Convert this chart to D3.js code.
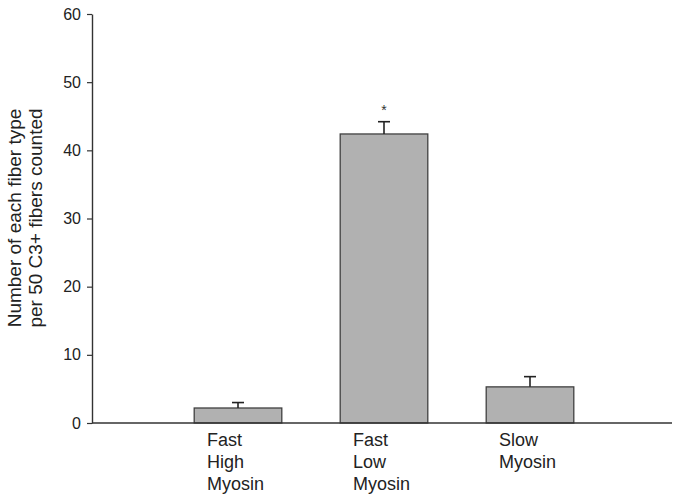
<!DOCTYPE html>
<html>
<head>
<meta charset="utf-8">
<script src="https://cdn.jsdelivr.net/npm/d3@7"></script>
<style>
  html, body { margin: 0; padding: 0; background: #fff; }
  svg { display: block; font-family: "Liberation Sans", Arial, sans-serif; }
</style>
</head>
<body>
<svg id="chart" width="674" height="496"></svg>
<script>
// ---- data ----
const categories = ["Fast High Myosin", "Fast Low Myosin", "Slow Myosin"];
const categoryLines = [["Fast", "High", "Myosin"], ["Fast", "Low", "Myosin"], ["Slow", "Myosin"]];
const means = [2.2, 42.4, 5.3];
const errors = [0.8, 1.8, 1.5];
const significance = ["", "*", ""];
const yTicks = [0, 10, 20, 30, 40, 50, 60];
const yLabelLines = ["Number of each fiber type", "per 50 C3+ fibers counted"];

// ---- layout ----
const svg = d3.select("#chart");
const axisX = 92, axisRight = 672, yTop = 14, yBottom = 423;

const y = d3.scaleLinear().domain([0, 60]).range([yBottom, yTop]);
const x = d3.scaleBand().domain(categories).range([165, 603]).paddingInner(0.4).paddingOuter(0.2);

const data = categories.map((c, i) => ({ c, m: means[i], e: errors[i], s: significance[i], lines: categoryLines[i] }));

// bars
svg.append("g").selectAll("rect").data(data).join("rect")
  .attr("x", d => x(d.c))
  .attr("y", d => y(d.m))
  .attr("width", x.bandwidth())
  .attr("height", d => y(0) - y(d.m))
  .attr("fill", "#b1b1b1")
  .attr("stroke", "#404040")
  .attr("stroke-width", 1.3);

// error bars (upper only)
const eg = svg.append("g").attr("stroke", "#222").attr("stroke-width", 1.6);
data.forEach(d => {
  const cx = x(d.c) + x.bandwidth() / 2;
  eg.append("line").attr("x1", cx).attr("x2", cx).attr("y1", y(d.m)).attr("y2", y(d.m + d.e));
  eg.append("line").attr("x1", cx - 6).attr("x2", cx + 6).attr("y1", y(d.m + d.e)).attr("y2", y(d.m + d.e));
});

// significance marks
svg.append("g").selectAll("text").data(data.filter(d => d.s)).join("text")
  .attr("x", d => x(d.c) + x.bandwidth() / 2)
  .attr("y", d => y(d.m + d.e) - 7)
  .attr("text-anchor", "middle")
  .attr("font-size", 14)
  .attr("fill", "#333")
  .text(d => d.s);

// y axis
const yAxis = d3.axisLeft(y).tickValues(yTicks).tickSize(5).tickPadding(6).tickSizeOuter(0);
const gy = svg.append("g").attr("transform", `translate(${axisX},0)`).call(yAxis);
gy.select(".domain").attr("stroke", "#333").attr("stroke-width", 1.4);
gy.selectAll(".tick line").attr("stroke", "#333").attr("stroke-width", 1.2);
gy.selectAll(".tick text").attr("font-size", 16).attr("fill", "#222")
  .attr("font-family", "Liberation Sans, Arial, sans-serif");

// x axis baseline
svg.append("line").attr("x1", axisX).attr("x2", axisRight)
  .attr("y1", y(0)).attr("y2", y(0))
  .attr("stroke", "#333").attr("stroke-width", 1.4);

// category labels
const lg = svg.append("g").attr("font-size", 18).attr("fill", "#222");
data.forEach(d => {
  const lx = x(d.c) + x.bandwidth() / 2 - 31;
  d.lines.forEach((t, k) => {
    lg.append("text").attr("x", lx).attr("y", 446 + k * 22).text(t);
  });
});

// y label
const yl = svg.append("g").attr("transform", "translate(21,218) rotate(-90)")
  .attr("font-size", 19).attr("fill", "#222").attr("text-anchor", "middle");
yLabelLines.forEach((t, k) => {
  yl.append("text").attr("x", 0).attr("y", k * 21).text(t);
});
</script>
</body>
</html>
